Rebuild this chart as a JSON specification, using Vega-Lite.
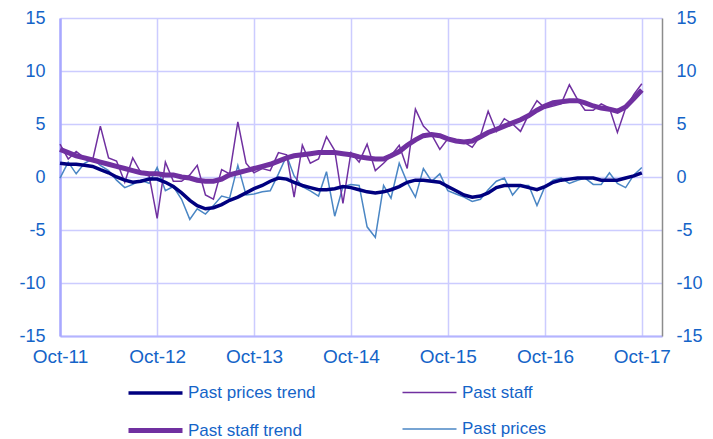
{
  "$schema": "https://vega.github.io/schema/vega-lite/v6.json",
  "width": 602,
  "height": 318,
  "autosize": {"type": "none"},
  "padding": {"left": 60, "top": 18, "right": 51, "bottom": 103},
  "background": "white",
  "config": {
    "view": {"stroke": null},
    "font": "Liberation Sans"
  },
  "data": {
    "format": {"parse": {"d": "date:'%Y-%m'"}},
    "values": [
      {"d": "2011-10", "Past prices trend": 1.3, "Past staff": 3.1, "Past staff trend": 2.6, "Past prices": -0.1},
      {"d": "2011-11", "Past prices trend": 1.2, "Past staff": 1.7, "Past staff trend": 2.3, "Past prices": 1.4},
      {"d": "2011-12", "Past prices trend": 1.2, "Past staff": 2.4, "Past staff trend": 2.0, "Past prices": 0.3},
      {"d": "2012-01", "Past prices trend": 1.1, "Past staff": 1.8, "Past staff trend": 1.8, "Past prices": 1.3},
      {"d": "2012-02", "Past prices trend": 1.0, "Past staff": 1.6, "Past staff trend": 1.6, "Past prices": 1.7},
      {"d": "2012-03", "Past prices trend": 0.7, "Past staff": 4.8, "Past staff trend": 1.4, "Past prices": 1.1},
      {"d": "2012-04", "Past prices trend": 0.4, "Past staff": 1.8, "Past staff trend": 1.2, "Past prices": 0.6},
      {"d": "2012-05", "Past prices trend": 0.0, "Past staff": 1.5, "Past staff trend": 1.0, "Past prices": -0.3},
      {"d": "2012-06", "Past prices trend": -0.3, "Past staff": -0.5, "Past staff trend": 0.8, "Past prices": -1.0},
      {"d": "2012-07", "Past prices trend": -0.5, "Past staff": 1.8, "Past staff trend": 0.6, "Past prices": -0.7},
      {"d": "2012-08", "Past prices trend": -0.4, "Past staff": 0.4, "Past staff trend": 0.4, "Past prices": -0.3},
      {"d": "2012-09", "Past prices trend": -0.2, "Past staff": 0.1, "Past staff trend": 0.3, "Past prices": -0.6},
      {"d": "2012-10", "Past prices trend": -0.2, "Past staff": -3.9, "Past staff trend": 0.3, "Past prices": 0.9},
      {"d": "2012-11", "Past prices trend": -0.5, "Past staff": 1.4, "Past staff trend": 0.2, "Past prices": -1.3},
      {"d": "2012-12", "Past prices trend": -0.9, "Past staff": -0.4, "Past staff trend": 0.2, "Past prices": -0.9},
      {"d": "2013-01", "Past prices trend": -1.5, "Past staff": -0.4, "Past staff trend": 0.0, "Past prices": -2.1},
      {"d": "2013-02", "Past prices trend": -2.2, "Past staff": 0.2, "Past staff trend": -0.1, "Past prices": -4.0},
      {"d": "2013-03", "Past prices trend": -2.7, "Past staff": 1.1, "Past staff trend": -0.3, "Past prices": -3.0},
      {"d": "2013-04", "Past prices trend": -3.0, "Past staff": -1.7, "Past staff trend": -0.4, "Past prices": -3.5},
      {"d": "2013-05", "Past prices trend": -2.9, "Past staff": -2.1, "Past staff trend": -0.4, "Past prices": -2.7},
      {"d": "2013-06", "Past prices trend": -2.6, "Past staff": 0.7, "Past staff trend": -0.2, "Past prices": -1.8},
      {"d": "2013-07", "Past prices trend": -2.2, "Past staff": 0.3, "Past staff trend": 0.2, "Past prices": -2.0},
      {"d": "2013-08", "Past prices trend": -1.9, "Past staff": 5.2, "Past staff trend": 0.4, "Past prices": 1.1},
      {"d": "2013-09", "Past prices trend": -1.5, "Past staff": 1.3, "Past staff trend": 0.6, "Past prices": -1.7},
      {"d": "2013-10", "Past prices trend": -1.1, "Past staff": 0.4, "Past staff trend": 0.8, "Past prices": -1.6},
      {"d": "2013-11", "Past prices trend": -0.8, "Past staff": 0.8, "Past staff trend": 1.0, "Past prices": -1.4},
      {"d": "2013-12", "Past prices trend": -0.4, "Past staff": 0.6, "Past staff trend": 1.2, "Past prices": -1.3},
      {"d": "2014-01", "Past prices trend": -0.1, "Past staff": 2.3, "Past staff trend": 1.5, "Past prices": 0.3},
      {"d": "2014-02", "Past prices trend": -0.2, "Past staff": 2.1, "Past staff trend": 1.8, "Past prices": 2.0},
      {"d": "2014-03", "Past prices trend": -0.5, "Past staff": -1.9, "Past staff trend": 2.0, "Past prices": 0.1},
      {"d": "2014-04", "Past prices trend": -0.8, "Past staff": 3.0, "Past staff trend": 2.1, "Past prices": -0.9},
      {"d": "2014-05", "Past prices trend": -1.0, "Past staff": 1.3, "Past staff trend": 2.2, "Past prices": -1.3},
      {"d": "2014-06", "Past prices trend": -1.2, "Past staff": 1.7, "Past staff trend": 2.3, "Past prices": -1.8},
      {"d": "2014-07", "Past prices trend": -1.2, "Past staff": 3.8, "Past staff trend": 2.3, "Past prices": 0.5},
      {"d": "2014-08", "Past prices trend": -1.1, "Past staff": 2.5, "Past staff trend": 2.3, "Past prices": -3.7},
      {"d": "2014-09", "Past prices trend": -0.9, "Past staff": -2.5, "Past staff trend": 2.2, "Past prices": -0.9},
      {"d": "2014-10", "Past prices trend": -1.0, "Past staff": 2.3, "Past staff trend": 2.1, "Past prices": -0.7},
      {"d": "2014-11", "Past prices trend": -1.2, "Past staff": 1.4, "Past staff trend": 1.9, "Past prices": -0.8},
      {"d": "2014-12", "Past prices trend": -1.4, "Past staff": 3.1, "Past staff trend": 1.8, "Past prices": -4.7},
      {"d": "2015-01", "Past prices trend": -1.5, "Past staff": 0.6, "Past staff trend": 1.7, "Past prices": -5.7},
      {"d": "2015-02", "Past prices trend": -1.4, "Past staff": 1.3, "Past staff trend": 1.7, "Past prices": -0.8},
      {"d": "2015-03", "Past prices trend": -1.2, "Past staff": 2.0, "Past staff trend": 2.0, "Past prices": -2.0},
      {"d": "2015-04", "Past prices trend": -0.9, "Past staff": 3.0, "Past staff trend": 2.4, "Past prices": 1.3},
      {"d": "2015-05", "Past prices trend": -0.5, "Past staff": 0.8, "Past staff trend": 3.0, "Past prices": -0.5},
      {"d": "2015-06", "Past prices trend": -0.3, "Past staff": 6.4, "Past staff trend": 3.5, "Past prices": -1.9},
      {"d": "2015-07", "Past prices trend": -0.3, "Past staff": 4.8, "Past staff trend": 3.9, "Past prices": 0.8},
      {"d": "2015-08", "Past prices trend": -0.4, "Past staff": 4.0, "Past staff trend": 4.0, "Past prices": -0.4},
      {"d": "2015-09", "Past prices trend": -0.5, "Past staff": 2.6, "Past staff trend": 3.9, "Past prices": 0.3},
      {"d": "2015-10", "Past prices trend": -0.9, "Past staff": 3.6, "Past staff trend": 3.6, "Past prices": -1.3},
      {"d": "2015-11", "Past prices trend": -1.3, "Past staff": 3.4, "Past staff trend": 3.4, "Past prices": -1.6},
      {"d": "2015-12", "Past prices trend": -1.7, "Past staff": 3.3, "Past staff trend": 3.3, "Past prices": -1.9},
      {"d": "2016-01", "Past prices trend": -1.9, "Past staff": 2.8, "Past staff trend": 3.4, "Past prices": -2.3},
      {"d": "2016-02", "Past prices trend": -1.8, "Past staff": 3.9, "Past staff trend": 3.8, "Past prices": -2.1},
      {"d": "2016-03", "Past prices trend": -1.5, "Past staff": 6.2, "Past staff trend": 4.2, "Past prices": -1.2},
      {"d": "2016-04", "Past prices trend": -1.0, "Past staff": 4.3, "Past staff trend": 4.5, "Past prices": -0.4},
      {"d": "2016-05", "Past prices trend": -0.8, "Past staff": 5.5, "Past staff trend": 4.8, "Past prices": -0.1},
      {"d": "2016-06", "Past prices trend": -0.8, "Past staff": 5.0, "Past staff trend": 5.1, "Past prices": -1.7},
      {"d": "2016-07", "Past prices trend": -0.8, "Past staff": 4.3, "Past staff trend": 5.4, "Past prices": -0.8},
      {"d": "2016-08", "Past prices trend": -1.0, "Past staff": 5.9, "Past staff trend": 5.8, "Past prices": -0.8},
      {"d": "2016-09", "Past prices trend": -1.2, "Past staff": 7.2, "Past staff trend": 6.3, "Past prices": -2.7},
      {"d": "2016-10", "Past prices trend": -0.9, "Past staff": 6.5, "Past staff trend": 6.7, "Past prices": -0.9},
      {"d": "2016-11", "Past prices trend": -0.5, "Past staff": 6.7, "Past staff trend": 7.0, "Past prices": -0.3},
      {"d": "2016-12", "Past prices trend": -0.3, "Past staff": 6.9, "Past staff trend": 7.1, "Past prices": -0.1},
      {"d": "2017-01", "Past prices trend": -0.2, "Past staff": 8.7, "Past staff trend": 7.2, "Past prices": -0.6},
      {"d": "2017-02", "Past prices trend": -0.1, "Past staff": 7.3, "Past staff trend": 7.2, "Past prices": -0.3},
      {"d": "2017-03", "Past prices trend": -0.1, "Past staff": 6.3, "Past staff trend": 7.0, "Past prices": -0.1},
      {"d": "2017-04", "Past prices trend": -0.1, "Past staff": 6.3, "Past staff trend": 6.7, "Past prices": -0.7},
      {"d": "2017-05", "Past prices trend": -0.3, "Past staff": 6.9, "Past staff trend": 6.5, "Past prices": -0.7},
      {"d": "2017-06", "Past prices trend": -0.3, "Past staff": 6.5, "Past staff trend": 6.4, "Past prices": 0.4},
      {"d": "2017-07", "Past prices trend": -0.3, "Past staff": 4.2, "Past staff trend": 6.2, "Past prices": -0.6},
      {"d": "2017-08", "Past prices trend": -0.1, "Past staff": 6.5, "Past staff trend": 6.6, "Past prices": -1.0},
      {"d": "2017-09", "Past prices trend": 0.1, "Past staff": 7.8, "Past staff trend": 7.4, "Past prices": 0.2},
      {"d": "2017-10", "Past prices trend": 0.4, "Past staff": 8.8, "Past staff trend": 8.2, "Past prices": 0.9}
    ]
  },
  "transform": [
    {"fold": ["Past prices", "Past staff", "Past prices trend", "Past staff trend"], "as": ["series", "value"]}
  ],
  "encoding": {
    "x": {
      "field": "d",
      "type": "temporal",
      "scale": {
        "domain": [{"year": 2011, "month": 10, "date": 1}, {"year": 2017, "month": 12, "date": 16}],
        "nice": false
      },
      "axis": {
        "title": null,
        "values": [
          {"year": 2011, "month": 10, "date": 1},
          {"year": 2012, "month": 10, "date": 1},
          {"year": 2013, "month": 10, "date": 1},
          {"year": 2014, "month": 10, "date": 1},
          {"year": 2015, "month": 10, "date": 1},
          {"year": 2016, "month": 10, "date": 1},
          {"year": 2017, "month": 10, "date": 1}
        ],
        "format": "%b-%y",
        "labelFont": "Liberation Sans",
        "labelFontSize": 19,
        "labelColor": "#1464c8",
        "labelPadding": 11,
        "labelFlush": false,
        "labelOverlap": false,
        "labelBound": false,
        "ticks": false,
        "grid": true,
        "gridColor": "#ccccff",
        "gridWidth": 1.5,
        "domainColor": "#b4b4ff",
        "domainWidth": 2
      }
    }
  },
  "layer": [
    {
      "encoding": {
        "y": {
          "field": "value",
          "type": "quantitative",
          "scale": {"domain": [-15, 15], "nice": false},
          "axis": {
            "title": null,
            "orient": "left",
            "values": [-15, -10, -5, 0, 5, 10, 15],
            "labelExpr": "'' + datum.value",
            "labelFont": "Liberation Sans",
            "labelFontSize": 18,
            "labelColor": "#1464c8",
            "labelPadding": 15,
            "ticks": false,
            "grid": true,
            "gridColor": "#ccccff",
            "gridWidth": 1.5,
            "domainColor": "#a8a8ff",
            "domainWidth": 2.5
          }
        },
        "color": {
          "field": "series",
          "type": "nominal",
          "scale": {
            "domain": ["Past prices trend", "Past staff", "Past staff trend", "Past prices"],
            "range": ["#00007f", "#7030a0", "#7030a0", "#4a86c4"]
          },
          "legend": {
            "title": null,
            "orient": "none",
            "legendX": 66,
            "legendY": 346,
            "columns": 2,
            "direction": "horizontal",
            "symbolType": "stroke",
            "symbolSize": 2916,
            "labelFont": "Liberation Sans",
            "labelFontSize": 17,
            "labelColor": "#1464c8",
            "labelOffset": 3,
            "columnPadding": 83,
            "rowPadding": -19,
            "padding": 0
          }
        },
        "strokeWidth": {
          "field": "series",
          "type": "nominal",
          "scale": {
            "type": "ordinal",
            "domain": ["Past prices trend", "Past staff", "Past staff trend", "Past prices"],
            "range": [3.5, 1.5, 5, 1.5]
          }
        }
      },
      "layer": [
        {"transform": [{"filter": "datum.series === 'Past prices'"}], "mark": {"type": "line"}},
        {"transform": [{"filter": "datum.series === 'Past staff'"}], "mark": {"type": "line"}},
        {"transform": [{"filter": "datum.series === 'Past prices trend'"}], "mark": {"type": "line"}},
        {"transform": [{"filter": "datum.series === 'Past staff trend'"}], "mark": {"type": "line"}}
      ]
    },
    {
      "transform": [{"filter": "datum.series === 'Past prices'"}],
      "mark": {"type": "point", "opacity": 0},
      "encoding": {
        "y": {
          "field": "value",
          "type": "quantitative",
          "scale": {"domain": [-15, 15], "nice": false},
          "axis": {
            "title": null,
            "orient": "right",
            "values": [-15, -10, -5, 0, 5, 10, 15],
            "labelExpr": "'' + datum.value",
            "labelFont": "Liberation Sans",
            "labelFontSize": 18,
            "labelColor": "#1464c8",
            "labelPadding": 14,
            "ticks": false,
            "grid": false,
            "domainColor": "#8c8c8c",
            "domainWidth": 1.5
          }
        }
      }
    }
  ],
  "resolve": {"scale": {"y": "independent"}}
}
